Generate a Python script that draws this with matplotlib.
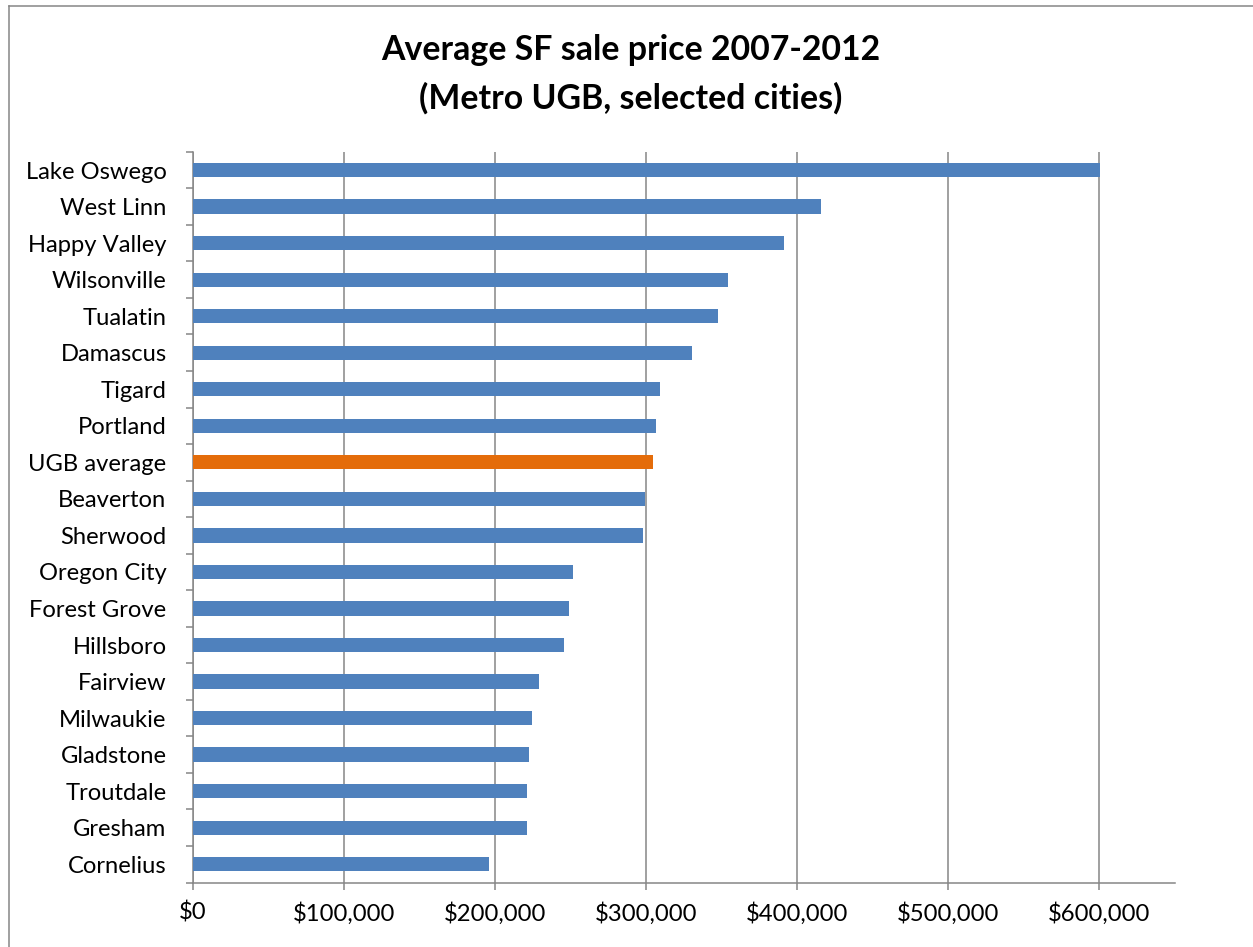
import numpy as np
import matplotlib
matplotlib.use("Agg")
import matplotlib.pyplot as plt
from matplotlib.lines import Line2D
from matplotlib.ticker import FuncFormatter, FixedLocator

# data (top to bottom as shown)
cities = ["Lake Oswego", "West Linn", "Happy Valley", "Wilsonville", "Tualatin",
          "Damascus", "Tigard", "Portland", "UGB average", "Beaverton", "Sherwood",
          "Oregon City", "Forest Grove", "Hillsboro", "Fairview", "Milwaukie",
          "Gladstone", "Troutdale", "Gresham", "Cornelius"]
prices = [600500, 415500, 391400, 353900, 347700,
          330100, 308900, 306600, 304400, 298900, 297800,
          251700, 249000, 245700, 229100, 224100,
          222300, 221200, 220800, 196100]
highlight = "UGB average"

BLUE = "#4F81BD"
ORANGE = "#E46C0A"
GRID = "#868686"

plt.rcParams['font.family'] = ['Lato', 'DejaVu Sans']

W, H = 1253, 947
fig = plt.figure(figsize=(W / 100, H / 100), dpi=100)
ax = fig.add_axes([193 / W, 1 - 882.5 / H, (1175 - 193) / W, (882.5 - 151.75) / H])

y = np.arange(len(cities))[::-1]
colors = [ORANGE if c == highlight else BLUE for c in cities]
ax.barh(y, prices, height=0.39, color=colors, zorder=3)

ax.set_xlim(0, 650000)
ax.set_ylim(-0.5, len(cities) - 0.5)
ax.set_xticks(np.arange(0, 600001, 100000))
ax.xaxis.set_major_formatter(FuncFormatter(lambda v, p: f"${v:,.0f}"))
ax.grid(axis='x', color=GRID, linewidth=1.1, zorder=0)

ax.set_yticks(y)
ax.set_yticklabels(cities)
ax.yaxis.set_minor_locator(FixedLocator(np.arange(-0.5, len(cities), 1.0)))
ax.tick_params(axis='y', which='major', length=0, pad=19, labelsize=17.1)
ax.tick_params(axis='y', which='minor', length=5, width=1.1, color=GRID, direction='out')
ax.tick_params(axis='x', length=5, width=1.1, color=GRID, pad=9, labelsize=17.2)

for s in ['top', 'right']:
    ax.spines[s].set_visible(False)
for s in ['left', 'bottom']:
    ax.spines[s].set_color(GRID)
    ax.spines[s].set_linewidth(1.1)

fig.text(631 / W, 1 - 50 / H, "Average SF sale price 2007-2012", ha='center', va='center',
         fontsize=24.4, fontweight='bold')
fig.text(631 / W, 1 - 98 / H, "(Metro UGB, selected cities)", ha='center', va='center',
         fontsize=24.4, fontweight='bold')

# outer chart frame (only left and top visible in crop)
fig.add_artist(Line2D([8.5 / W, 8.5 / W], [0, 1 - 6.5 / H], color=GRID, lw=1.1, transform=fig.transFigure))
fig.add_artist(Line2D([8.5 / W, 1], [1 - 6.5 / H, 1 - 6.5 / H], color=GRID, lw=1.1, transform=fig.transFigure))

fig.savefig("out.png", dpi=100)
